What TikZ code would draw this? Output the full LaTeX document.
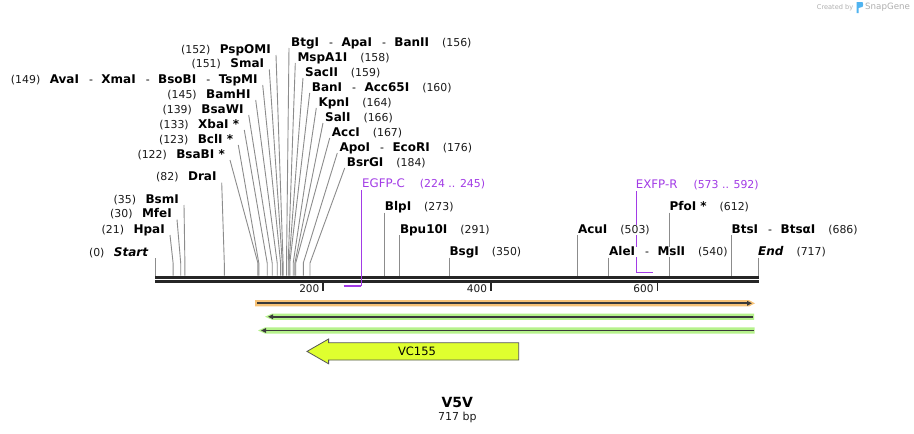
\documentclass[tikz,border=0pt]{standalone}
\usepackage{fontspec}
\setmainfont{DejaVu Sans}
\usetikzlibrary{calc,arrows.meta,backgrounds}
\definecolor{leadgray}{HTML}{8C8C8C}
\definecolor{bbone}{HTML}{262626}
\definecolor{numgray}{HTML}{1A1A1A}
\definecolor{primerc}{HTML}{A23BE6}
\definecolor{orangel}{HTML}{F7C276}
\definecolor{greenl}{HTML}{B6F28C}
\definecolor{featdark}{HTML}{3A3A3A}
\definecolor{vcfill}{HTML}{DFFF2F}
\definecolor{vcline}{HTML}{555555}
\definecolor{wmgray}{HTML}{AFAFAF}
\definecolor{wmblue}{HTML}{4FB3F0}
\newcommand{\namefont}{\fontsize{12}{14}\selectfont\bfseries}
\newcommand{\numfont}{\fontsize{10.9}{13}\selectfont\mdseries}
\newcommand{\sitename}[1]{{\namefont #1}}
\newcommand{\sitenum}[1]{{\numfont\color{numgray}#1}}
\newcommand{\sitesep}{\hspace{10pt}{\numfont -}\hspace{8.5pt}}
\newcommand{\gapL}{\hspace{9.5pt}}
\newcommand{\gapR}{\hspace{13pt}}
\tikzset{
  lbl/.style={inner sep=0pt, fill=white, text=black},
  leader/.style={draw=leadgray, line width=0.9pt},
  primer/.style={draw=primerc, line width=1.6pt},
  plbl/.style={inner sep=0pt, fill=white, text=primerc},
  tickmark/.style={draw=bbone, line width=1.8pt},
  ticklbl/.style={inner sep=0pt, font=\fontsize{10.5}{12}\selectfont, text=numgray},
}
\begin{document}
\begin{tikzpicture}[x=1pt,y=-1pt]
\useasboundingbox (0,0) rectangle (914,434);
% site coordinates: knee (k) and backbone top (b)
\foreach \p/\xx in {0/155.5,21/173.1,30/180.7,35/184.9,82/224.3,122/257.9,123/258.8,133/267.2,139/272.2,145/277.2,149/280.6,151/282.3,152/283.1,156/286.5,158/288.2,159/289.0,160/289.8,164/293.2,166/294.9,167/295.7,176/303.3,184/310.0,273/384.7,291/399.8,350/449.4,503/577.8,540/608.9,612/669.3,686/731.5,717/758.0}{
  \coordinate (k\p) at (\xx,263);
  \coordinate (b\p) at (\xx,275.5);
}
% ---------- labels ----------
% left fan
\node[lbl, anchor=base east] (L152) at (271,53) {\sitenum{(152)}\gapL\sitename{PspOMI}};
\node[lbl, anchor=base east] (L151) at (264.3,67.5) {\sitenum{(151)}\gapL\sitename{SmaI}};
\node[lbl, anchor=base east] (L149) at (257.7,83) {\sitenum{(149)}\gapL\sitename{AvaI}\sitesep\sitename{XmaI}\sitesep\sitename{BsoBI}\sitesep\sitename{TspMI}};
\node[lbl, anchor=base east] (L145) at (250.7,98) {\sitenum{(145)}\gapL\sitename{BamHI}};
\node[lbl, anchor=base east] (L139) at (243.7,113) {\sitenum{(139)}\gapL\sitename{BsaWI}};
\node[lbl, anchor=base east] (L133) at (239.3,128) {\sitenum{(133)}\gapL\sitename{XbaI *}};
\node[lbl, anchor=base east] (L123) at (233.3,143) {\sitenum{(123)}\gapL\sitename{BclI *}};
\node[lbl, anchor=base east] (L122) at (225,158) {\sitenum{(122)}\gapL\sitename{BsaBI *}};
% right fan
\node[lbl, anchor=base west] (R156) at (291,46) {\sitename{BtgI}\sitesep\sitename{ApaI}\sitesep\sitename{BanII}\gapR\sitenum{(156)}};
\node[lbl, anchor=base west] (R158) at (297.3,61) {\sitename{MspA1I}\gapR\sitenum{(158)}};
\node[lbl, anchor=base west] (R159) at (305,76) {\sitename{SacII}\gapR\sitenum{(159)}};
\node[lbl, anchor=base west] (R160) at (311.7,91) {\sitename{BanI}\sitesep\sitename{Acc65I}\gapR\sitenum{(160)}};
\node[lbl, anchor=base west] (R164) at (318.3,106) {\sitename{KpnI}\gapR\sitenum{(164)}};
\node[lbl, anchor=base west] (R166) at (325,121) {\sitename{SalI}\gapR\sitenum{(166)}};
\node[lbl, anchor=base west] (R167) at (331.7,136) {\sitename{AccI}\gapR\sitenum{(167)}};
\node[lbl, anchor=base west] (R176) at (339.3,151) {\sitename{ApoI}\sitesep\sitename{EcoRI}\gapR\sitenum{(176)}};
\node[lbl, anchor=base west] (R184) at (346.7,166) {\sitename{BsrGI}\gapR\sitenum{(184)}};
% left rows
\node[lbl, anchor=base east] (L0) at (148.3,256.3) {\sitenum{(0)}\gapL\sitename{\itshape Start}};
\node[lbl, anchor=base east] (L21) at (165,233) {\sitenum{(21)}\gapL\sitename{HpaI}};
\node[lbl, anchor=base east] (L30) at (172,217.5) {\sitenum{(30)}\gapL\sitename{MfeI}};
\node[lbl, anchor=base east] (L35) at (179,203) {\sitenum{(35)}\gapL\sitename{BsmI}};
\node[lbl, anchor=base east] (L82) at (216.7,180.7) {\sitenum{(82)}\gapL\sitename{DraI}};
% right rows
\node[lbl, anchor=base west] (R273) at (384.7,210.7) {\sitename{BlpI}\gapR\sitenum{(273)}};
\node[lbl, anchor=base west] (R291) at (399.8,233.3) {\sitename{Bpu10I}\gapR\sitenum{(291)}};
\node[lbl, anchor=base west] (R350) at (449.4,255.7) {\sitename{BsgI}\gapR\sitenum{(350)}};
\node[lbl, anchor=base west] (R503) at (577.8,233.3) {\sitename{AcuI}\gapR\sitenum{(503)}};
\node[lbl, anchor=base west] (R540) at (608.9,255.7) {\sitename{AleI}\sitesep\sitename{MslI}\gapR\sitenum{(540)}};
\node[lbl, anchor=base west] (R612) at (669.3,210.7) {\sitename{PfoI *}\gapR\sitenum{(612)}};
\node[lbl, anchor=base west] (R686) at (731.5,233.3) {\sitename{BtsI}\sitesep\sitename{BtsαI}\gapR\sitenum{(686)}};
\node[lbl, anchor=base west] (R717) at (758,255.7) {\sitename{\itshape End}\gapR\sitenum{(717)}};
% primers
\node[plbl, anchor=base west] (PEGFP) at (362,187.5) {{\fontsize{11.8}{14}\selectfont EGFP-C}\hspace{15pt}{\numfont (224 .. 245)}};
\node[plbl, anchor=base west] (PEXFP) at (635.7,188) {{\fontsize{11.8}{14}\selectfont EXFP-R}\hspace{16pt}{\numfont (573 .. 592)}};
% ticks labels
\node[ticklbl, anchor=base east] (T200) at (319.5,292.5) {200};
\node[ticklbl, anchor=base east] (T400) at (487.2,292.5) {400};
\node[ticklbl, anchor=base east] (T600) at (653.7,292.5) {600};
% features
\node[inner sep=0pt, font=\fontsize{11.5}{13}\selectfont] (VC) at (417,351) {VC155};
% title
\node[inner sep=0pt, font=\fontsize{14}{16}\selectfont\bfseries] (TITLE) at (457.3,402.7) {V5V};
\node[inner sep=0pt, font=\fontsize{11}{13}\selectfont, text=numgray] (BP) at (457.3,417.3) {717 bp};
% watermark
\node[inner sep=0pt, anchor=west, font=\fontsize{6.6}{8}\selectfont, text=wmgray] (WM1) at (816.7,7.5) {Created by};
\node[inner sep=0pt, anchor=west, font=\fontsize{8.7}{10}\selectfont, text=wmgray] (WM2) at (865,7.5) {SnapGene};
% ---------- background layer: lines ----------
\begin{pgfonlayer}{background}
\fill[white] (0,0) rectangle (914,434);
% watermark logo
\fill[wmblue] (856.5,2) -- (862,2) .. controls (863.5,2) and (863.5,7) .. (862,7) -- (858.5,8) -- (858.5,13) -- (856.5,13) -- cycle;
% backbone
\draw[bbone, line width=3.3pt] (155,277.3) -- (758.5,277.3);
\draw[bbone, line width=2.3pt] (155,281.5) -- (758.5,281.5);
% ticks
\draw[tickmark] (323.3,283) -- (323.3,290.5);
\draw[tickmark] (491,283) -- (491,290.5);
\draw[tickmark] (657.5,283) -- (657.5,290.5);
% leaders
\foreach \p in {152,151,149,145,139,133,123,122,21,30,35,82}{
  \draw[leader] ($(L\p.base east)+(5,2)$) -- (k\p) -- (b\p);
}
\foreach \p in {156,158,159,160,164,166,167,176,184}{
  \draw[leader] ($(R\p.base west)+(-2,2)$) -- (k\p) -- (b\p);
}
\foreach \p in {273,291,350,503,540,612,686,717}{
  \draw[leader] ($(R\p.base west)+(0,2)$) -- (b\p);
}
\coordinate (t0) at (155.5,258.3);
\draw[leader] (t0) -- (b0);
% primers
\coordinate (p224) at (343.6,286);
\coordinate (p245) at (361.2,286);
\coordinate (q245) at (361.2,190);
\draw[primer] (p224) -- (p245);
\draw[primerc, line width=1.2pt] (p245) -- (q245);
\coordinate (p573) at (636.6,272.6);
\coordinate (p592) at (652.5,272.6);
\coordinate (q573) at (636.6,190.5);
\draw[primer] (p573) -- (p592);
\draw[primerc, line width=1.2pt] (p573) -- (q573);
% features: orange forward
\fill[orangel] (255,300.2) -- (749,300.2) -- (755,303.3) -- (749,306.4) -- (255,306.4) -- cycle;
\draw[featdark, line width=1.7pt, -{Triangle[length=5pt,width=4.5pt]}] (257,303.3) -- (752,303.3);
% green reverse 1
\fill[greenl] (754,313.6) -- (272,313.6) -- (265,316.7) -- (272,319.8) -- (754,319.8) -- cycle;
\draw[featdark, line width=1.7pt, -{Triangle[length=5pt,width=4.5pt]}] (753,316.7) -- (268,316.7);
% green reverse 2
\fill[greenl] (754.5,327.4) -- (265,327.4) -- (258,330.5) -- (265,333.6) -- (754.5,333.6) -- cycle;
\draw[featdark, line width=1.7pt, -{Triangle[length=5pt,width=4.5pt]}] (753.5,330.5) -- (261,330.5);
% VC155 arrow
\filldraw[fill=vcfill, draw=vcline, line width=0.8pt] (307,351.4) -- (328.6,339) -- (328.6,342.8) -- (518.7,342.8) -- (518.7,360) -- (328.6,360) -- (328.6,363.8) -- cycle;
\end{pgfonlayer}
\end{tikzpicture}
\end{document}
